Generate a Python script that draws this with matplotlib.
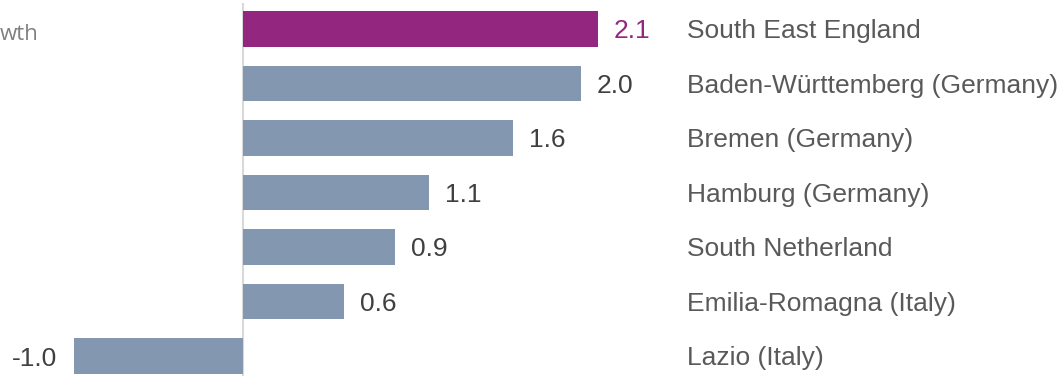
import matplotlib
matplotlib.use("Agg")
import matplotlib.pyplot as plt
import matplotlib.transforms as mtransforms

# Regional growth figures
regions = [
    "South East England",
    "Baden-Württemberg (Germany)",
    "Bremen (Germany)",
    "Hamburg (Germany)",
    "South Netherland",
    "Emilia-Romagna (Italy)",
    "Lazio (Italy)",
]
growth = [2.1, 2.0, 1.6, 1.1, 0.9, 0.6, -1.0]
value_labels = ["2.1", "2.0", "1.6", "1.1", "0.9", "0.6", "-1.0"]
highlight = "South East England"

HIGHLIGHT_COLOR = "#93267F"
BAR_COLOR = "#8497B0"
VALUE_COLOR = "#404040"
NAME_COLOR = "#595959"

W, H, DPI = 1063, 376, 100
fig = plt.figure(figsize=(W / DPI, H / DPI), dpi=DPI)
ax = fig.add_axes([0, 0, 1, 1])

px_per_unit = 169.0
zero_px = 243.0
ax.set_xlim(-zero_px / px_per_unit, (W - zero_px) / px_per_unit)
pitch = 54.5
top_px = 29.0
ax.set_ylim(len(regions) - 1 + (H - top_px - pitch * (len(regions) - 1)) / pitch,
            -top_px / pitch)

ypos = list(range(len(regions)))
colors = [HIGHLIGHT_COLOR if r == highlight else BAR_COLOR for r in regions]
ax.barh(ypos, growth, height=0.66, color=colors, edgecolor="none", zorder=2)

# zero reference line
ax.axvline(0, ymin=0, ymax=(H - 4) / H, color="#D9D9D9", lw=1.5, zorder=1)

font = ["Liberation Sans", "DejaVu Sans"]
FS = 19
for y, v, lab, r in zip(ypos, growth, value_labels, regions):
    c = HIGHLIGHT_COLOR if r == highlight else VALUE_COLOR
    if v >= 0:
        ax.annotate(lab, (v, y), xytext=(16, 0), textcoords="offset pixels",
                    ha="left", va="center_baseline", fontsize=FS, color=c, family=font)
    else:
        ax.annotate(lab, (v, y), xytext=(-17, 0), textcoords="offset pixels",
                    ha="right", va="center_baseline", fontsize=FS, color=c, family=font)

# region names in a column on the right
name_trans = mtransforms.blended_transform_factory(fig.transFigure, ax.transData)
for y, r in zip(ypos, regions):
    ax.annotate(r, (687 / W, y), xycoords=name_trans, xytext=(0, 0),
                textcoords="offset pixels", ha="left", va="center_baseline",
                fontsize=FS, color=NAME_COLOR, family=font)

# axis caption at the top left
fig.text(0, 1 - 32 / H, "wth", ha="left", va="center_baseline",
         fontsize=16, color="#808080", family=["Open Sans", "DejaVu Sans"])

ax.axis("off")
fig.savefig("out.png", dpi=DPI)
